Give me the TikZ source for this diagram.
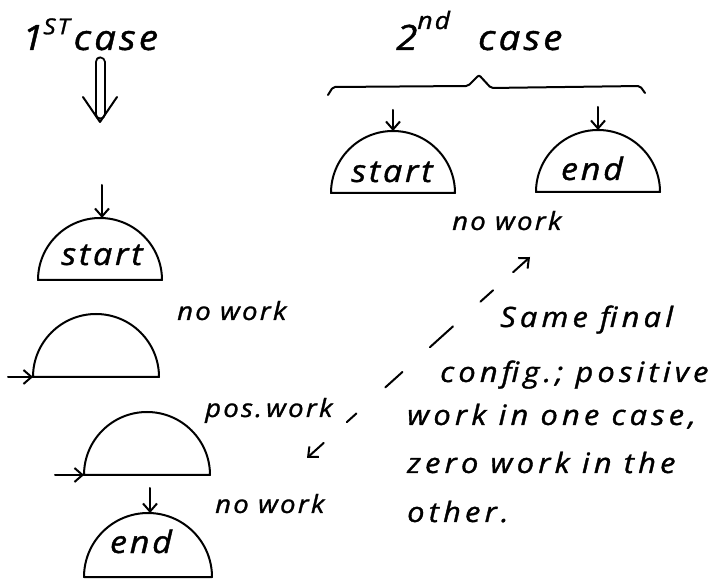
\documentclass[tikz,border=0pt]{standalone}
\usepackage{fontspec}
\setmainfont{Open Sans}
\newfontfamily\handfont{Open Sans}[FakeStretch=1.1, FakeBold=1.2, LetterSpace=9]
\newfontfamily\notefont{Open Sans}[FakeStretch=1.1, FakeBold=1.2, LetterSpace=15]
\usetikzlibrary{arrows.meta,calc}

\tikzset{
  ink/.style={line width=2pt, line cap=round, line join=round},
  barb/.tip={Straight Barb[length=8pt,width=14pt,line width=2pt]},
  tip/.style={-barb},
  dome/.style={ink},
  hand/.style={font=\handfont\itshape\fontsize{25}{28}\selectfont, inner sep=0pt},
  domelabel/.style={font=\handfont\itshape\fontsize{31}{34}\selectfont, inner sep=0pt},
  notetext/.style={font=\notefont\itshape\fontsize{28}{32}\selectfont, inner sep=0pt, anchor=base west},
  titletext/.style={font=\handfont\itshape\fontsize{35}{38}\selectfont, inner sep=0pt},
}

\begin{document}
\begin{tikzpicture}[x=1pt,y=1pt]
  \fill[white] (0,0) rectangle (717,586);
  \useasboundingbox (0,0) rectangle (717,586);

  % ---------- first case: four stages stacked ----------
  \node[titletext, anchor=base west] (title1) at (22,536)
    {1\raisebox{0.45em}{\fontsize{22}{22}\selectfont ST}\hspace{4pt}case};
  \coordinate (dtop) at (100,524);
  \coordinate (dtip) at (100,464);
  \draw[ink, double, double distance=7pt] (dtop) -- ($(dtip)+(0,8)$);
  \draw[ink] ($(dtip)+(-17,25)$) -- (dtip) -- ($(dtip)+(17,25)$);

  % stage 1: start
  \draw[dome] (38,306) arc[start angle=180, end angle=0, radius=62] -- cycle;
  \node[domelabel, anchor=base] (startA) at (102,321) {start};
  \coordinate (inA) at (102,401);
  \coordinate (apexA) at (102,368);
  \draw[ink, tip] (inA) -- (apexA);

  \node[hand, anchor=base west] (nowork1) at (177,266) {no work};

  % stage 2
  \draw[dome] (33,209) arc[start angle=180, end angle=0, radius=63] -- cycle;
  \coordinate (inB) at (8,209);
  \coordinate (cornerB) at (33,209);
  \draw[ink, tip] (inB) -- (cornerB);

  \node[hand, anchor=base west] (poswork) at (205,169) {pos.\,work};

  % stage 3
  \draw[dome] (84,111) arc[start angle=180, end angle=0, radius=63] -- cycle;
  \coordinate (inC) at (55,111);
  \coordinate (cornerC) at (84,111);
  \draw[ink, tip] (inC) -- (cornerC);

  \node[hand, anchor=base west] (nowork2) at (215,73) {no work};

  % stage 4: end
  \draw[dome] (84,9) arc[start angle=180, end angle=0, radius=64] -- cycle;
  \node[domelabel, anchor=base] (endA) at (141,33) {end};
  \coordinate (inD) at (150,98);
  \coordinate (apexD) at (150,73);
  \draw[ink, tip] (inD) -- (apexD);

  % ---------- second case: two stages side by side ----------
  \node[titletext, anchor=base west] (title2) at (396,536)
    {2\raisebox{0.6em}{\fontsize{24}{24}\selectfont nd}\hspace{28pt}case};
  \draw[ink, rounded corners=2pt] (328,491) -- (333,499) -- (468,500)
    -- (479,511) -- (491,498) -- (640,500) -- (645,493);

  \draw[dome] (331,393) arc[start angle=180, end angle=0, radius=62] -- cycle;
  \node[domelabel, anchor=base] (startB) at (392,404) {start};
  \coordinate (inE) at (393,476);
  \coordinate (apexE) at (393,455);
  \draw[ink, tip] (inE) -- (apexE);

  \draw[dome] (536,394) arc[start angle=180, end angle=0, radius=62] -- cycle;
  \node[domelabel, anchor=base] (endB) at (592,406) {end};
  \coordinate (inF) at (598,479);
  \coordinate (apexF) at (598,456);
  \draw[ink, tip] (inF) -- (apexF);

  \node[hand, anchor=base west] (nowork3) at (452,356) {no work};

  % ---------- comparison note ----------
  \coordinate (linkA) at (530,329);
  \coordinate (linkB) at (307,128);
  \draw[ink, barb-barb,
        dash pattern=on 20pt off 31pt on 13pt off 39pt on 23pt off 37pt on 31pt off 37pt on 17pt off 27pt on 40pt]
        (linkB) -- (linkA);

  \node[notetext] (note1) at (500,259) {Same final};
  \node[notetext] (note2) at (440,204) {config.; positive};
  \node[notetext] (note3) at (407,161) {work in one case,};
  \node[notetext] (note4) at (407,113) {zero work in the};
  \node[notetext] (note5) at (407,64) {other.};
\end{tikzpicture}
\end{document}
